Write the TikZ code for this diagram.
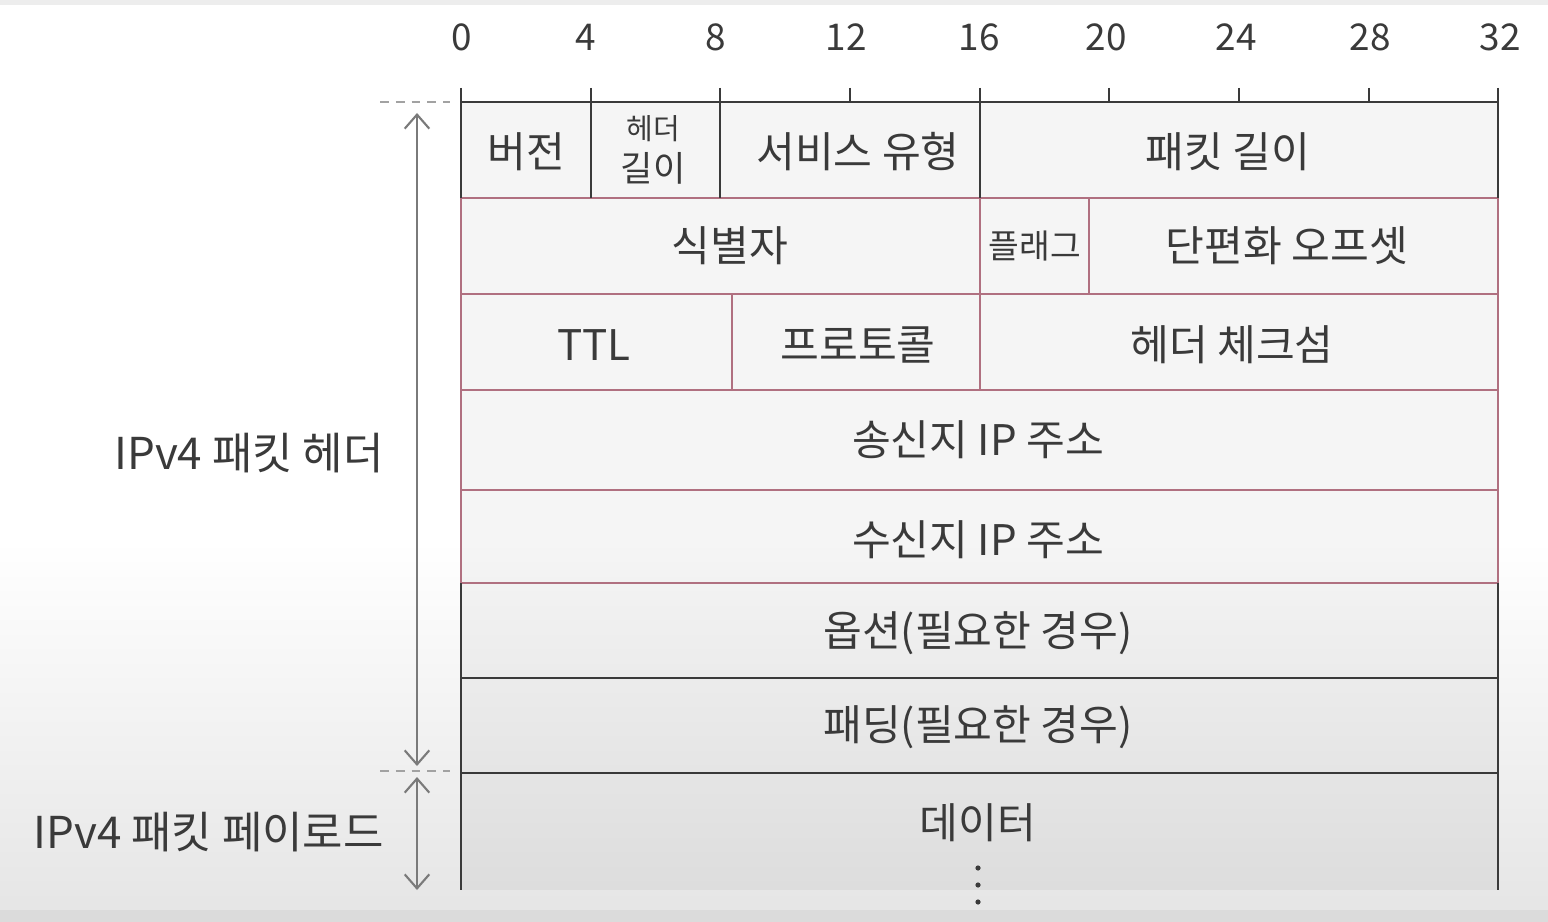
\documentclass[tikz,border=0pt]{standalone}
\usepackage{fontspec}
\setmainfont{Noto Sans CJK KR}
\usetikzlibrary{arrows.meta}
\definecolor{ink}{HTML}{3A3A3A}
\definecolor{rose}{HTML}{B07080}
\definecolor{arrowgrey}{HTML}{7A7A7A}
\begin{document}
\begin{tikzpicture}[x=0.02cm,y=-0.02cm,
  grid/.style={draw=ink,line width=1.2pt},
  pinkgrid/.style={draw=rose,line width=1.2pt},
  cell/.style={font=\fontsize{24}{26}\selectfont,text=ink,inner sep=0pt},
  tick/.style={font=\fontsize{21}{22}\selectfont,text=ink,inner sep=0pt},
  side/.style={font=\fontsize{25}{27}\selectfont,text=ink,inner sep=0pt,anchor=east},
  dimarrow/.style={draw=arrowgrey,line width=1.2pt,{Straight Barb[length=8pt,width=14pt]}-{Straight Barb[length=8pt,width=14pt]}},
  sep/.style={draw=arrowgrey!70,line width=1pt,dash pattern=on 5pt off 4pt}]
% background
\useasboundingbox (0,0) rectangle (1548,922);
\fill[white] (0,0) rectangle (1548,922);
\shade[top color=white,bottom color=black!10] (0,540) rectangle (1548,910);
\fill[black!7] (0,0) rectangle (1548,5);
\fill[black!14] (0,910) rectangle (1548,922);
% table fill
\fill[black,fill opacity=0.04] (461,102) rectangle (1498,890);
% tick labels
\foreach \b/\xx in {0/462,4/586,8/716,12/846,16/979,20/1106,24/1236,28/1370,32/1500}
  \node[tick] (t\b) at (\xx,37) {\b};
% tick marks
\foreach \xx in {850,1109,1239,1369}
  \draw[grid] (\xx,88) -- (\xx,102);
% horizontal row lines
\draw[grid] (461,102) -- (1498,102);
\draw[pinkgrid] (461,198) -- (1498,198);
\draw[pinkgrid] (461,294) -- (1498,294);
\draw[pinkgrid] (461,390) -- (1498,390);
\draw[pinkgrid] (461,490) -- (1498,490);
\draw[pinkgrid] (461,583) -- (1498,583);
\draw[grid] (461,678) -- (1498,678);
\draw[grid] (461,773) -- (1498,773);
% row 1 verticals
\draw[grid] (591,88) -- (591,198);
\draw[grid] (720,88) -- (720,198);
\draw[grid] (980,88) -- (980,198);
% row 2/3 verticals
\draw[pinkgrid] (980,198) -- (980,390);
\draw[pinkgrid] (1089,198) -- (1089,294);
\draw[pinkgrid] (732,294) -- (732,390);
% outer verticals
\draw[grid] (461,88) -- (461,890);
\draw[grid] (1498,88) -- (1498,890);
\draw[pinkgrid] (461,198) -- (461,583);
\draw[pinkgrid] (1498,198) -- (1498,583);
% cell texts
\node[cell] (ver) at (526,152) {버전};
\node[cell,align=center] (hlen) at (653,150) {{\fontsize{16.5}{17}\selectfont 헤더}\\[-2pt]{\fontsize{20}{22}\selectfont 길이}};
\node[cell] (tos) at (858,152) {서비스 유형};
\node[cell] (plen) at (1228,152) {패킷 길이};
\node[cell] (ident) at (730,246) {식별자};
\node[cell] (flag) at (1035,246) {{\fontsize{19}{20}\selectfont 플래그}};
\node[cell] (frag) at (1287,246) {단편화 오프셋};
\node[cell] (ttl) at (594,345) {TTL};
\node[cell] (proto) at (858,345) {프로토콜};
\node[cell] (chk) at (1232,345) {헤더 체크섬};
\node[cell] (src) at (978,440) {송신지 IP 주소};
\node[cell] (dst) at (978,540) {수신지 IP 주소};
\node[cell] (opt) at (978,633) {옵션(필요한 경우)};
\node[cell] (pad) at (978,727) {패딩(필요한 경우)};
\node[cell] (data) at (978,823) {데이터};
\foreach \yy in {868,885,902} \fill[ink] (978,\yy) circle (2.6);
% left side
\draw[sep] (380,102) -- (450,102);
\draw[sep] (380,771) -- (450,771);
\coordinate (hTop) at (417,113);
\coordinate (hBot) at (417,766);
\coordinate (pTop) at (417,777);
\coordinate (pBot) at (417,890);
\draw[dimarrow] (hTop) -- (hBot);
\draw[dimarrow] (pTop) -- (pBot);
\node[side] (hdr) at (384,453) {IPv4 패킷 헤더};
\node[side] (pay) at (384,832) {IPv4 패킷 페이로드};
\end{tikzpicture}
\end{document}
